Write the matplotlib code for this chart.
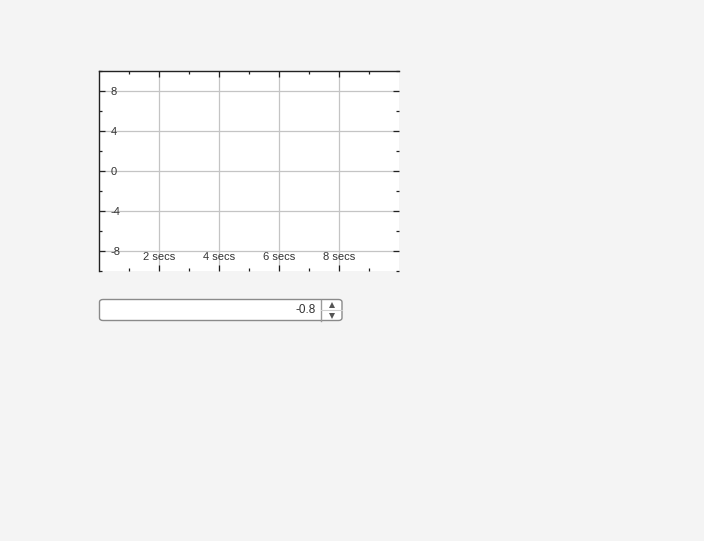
import matplotlib.pyplot as plt
from matplotlib.patches import FancyBboxPatch

plt.rcParams['font.family'] = ['Liberation Sans', 'DejaVu Sans']

x_range = [0, 10]
y_range = [-10, 10]
x_major = [2, 4, 6, 8]
x_labels = ['2 secs', '4 secs', '6 secs', '8 secs']
x_minor = [1, 3, 5, 7, 9]
y_major = [-8, -4, 0, 4, 8]
y_labels = ['-8', '-4', '0', '4', '8']
y_minor = [-10, -6, -2, 2, 6, 10]
spin_value = '-0.8'

W, H = 704, 541
fig = plt.figure(figsize=(W / 100, H / 100), dpi=100)
fig.patch.set_facecolor('#f4f4f4')

ax = fig.add_axes([99.2 / W, (H - 270.5) / H, 300 / W, 199.5 / H])
ax.set_facecolor('white')
ax.set_xlim(x_range)
ax.set_ylim(y_range)

ax.set_xticks(x_major)
ax.set_xticklabels(x_labels)
ax.set_xticks(x_minor, minor=True)
ax.set_yticks(y_major)
ax.set_yticklabels(y_labels)
ax.set_yticks(y_minor, minor=True)

ax.grid(True, which='major', color='#c4c4c4', linewidth=0.9)
for s in ['right', 'bottom']:
    ax.spines[s].set_visible(False)
for s in ['top', 'left']:
    ax.spines[s].set_color('#222222')
    ax.spines[s].set_linewidth(1.0)

ax.tick_params(axis='both', which='both', direction='in', top=True, right=True,
               color='#222222', width=0.9, labelsize=8, labelcolor='#333333')
ax.tick_params(axis='both', which='major', length=4)
ax.tick_params(axis='both', which='minor', length=2.5)
ax.tick_params(axis='y', which='major', pad=-8)
ax.tick_params(axis='x', which='major', pad=-10)
for lab in ax.get_yticklabels():
    lab.set_horizontalalignment('left')
for lab in ax.get_xticklabels():
    lab.set_verticalalignment('center')

# spin box below the chart
top, bot = (H - 299.5) / H, (H - 320.5) / H
left, split, right = 99.5 / W, 320.5 / W, 342 / W
outline = FancyBboxPatch((left, bot), right - left, top - bot,
                         boxstyle='round,pad=0,rounding_size=0.005',
                         transform=fig.transFigure, facecolor='white',
                         edgecolor='#8a8a8a', linewidth=1.0)
fig.patches.append(outline)
fig.add_artist(plt.Line2D([split, split], [bot, top], transform=fig.transFigure,
                          color='#9a9a9a', linewidth=1.0))
fig.add_artist(plt.Line2D([split, right], [(H - 310) / H, (H - 310) / H],
                          transform=fig.transFigure, color='#cfcfcf', linewidth=0.8))
fig.text(316 / W, (H - 310) / H, spin_value, ha='right', va='center',
         fontsize=8.5, color='#333333')
fig.add_artist(plt.Line2D([331.5 / W], [(H - 304.5) / H], marker='^', markersize=4.6,
                          markeredgewidth=0, color='#555555', transform=fig.transFigure))
fig.add_artist(plt.Line2D([331.5 / W], [(H - 315.5) / H], marker='v', markersize=4.6,
                          markeredgewidth=0, color='#555555', transform=fig.transFigure))

fig.savefig('out.png', dpi=100, facecolor=fig.get_facecolor())
